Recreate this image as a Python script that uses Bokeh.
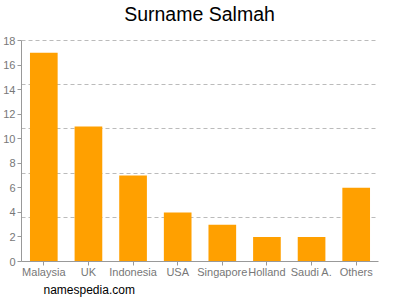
from bokeh.plotting import figure
from bokeh.models import FixedTicker, Title, Range1d, Label
from bokeh.embed import file_html
from bokeh.resources import INLINE

countries = ["Malaysia", "UK", "Indonesia", "USA", "Singapore", "Holland", "Saudi A.", "Others"]
counts = [17, 11, 7, 4, 3, 2, 2, 6]
y_ticks = [0, 2, 4, 6, 8, 10, 12, 14, 16, 18]
grid_lines = [3.6, 7.2, 10.8, 14.4, 18]

FONT = "Liberation Sans"
GRAY = "#777777"

# frame spans the full height above the x axis; the data part (0..18) takes the lower 221 px
FRAME_H = 261
DATA_H = 221
y_max = 18
y_end = y_max * FRAME_H / DATA_H

p = figure(x_range=countries, y_range=Range1d(0, y_end), width=400, height=300,
           output_backend="svg", toolbar_location=None,
           min_border_left=18, min_border_right=22, min_border_top=0, min_border_bottom=39)

p.vbar(x=countries, top=counts, width=0.62, color="#ffa000", line_color=None)

title = Label(x=178, y=FRAME_H - 13, x_units="screen", y_units="screen",
              text="Surname Salmah", text_font=FONT, text_font_size="19.5px",
              text_color="#000000", text_align="center", text_baseline="middle")
p.add_layout(title)

foot = Title(text="namespedia.com", align="left", offset=22, text_font=FONT,
             text_font_size="12px", text_font_style="normal", text_color="#000000",
             standoff=0)
p.add_layout(foot, "below")

p.outline_line_color = None
p.xgrid.grid_line_color = None
p.ygrid.ticker = FixedTicker(ticks=grid_lines)
p.ygrid.grid_line_color = "#bbbbbb"
p.ygrid.grid_line_dash = "4 3"

p.yaxis.ticker = FixedTicker(ticks=y_ticks)
p.yaxis.bounds = (0, y_max)
for ax in (p.xaxis, p.yaxis):
    ax.axis_line_color = "#999999"
    ax.major_tick_line_color = "#999999"
    ax.minor_tick_line_color = None
    ax.major_label_text_font = FONT
    ax.major_label_text_font_size = "11px"
    ax.major_label_text_color = GRAY
    ax.major_tick_out = 4
    ax.major_tick_in = 0
p.yaxis.major_label_standoff = 2
p.xaxis.major_label_standoff = 0
p.x_range.range_padding = 0

open("out.html", "w").write(file_html(p, INLINE))
